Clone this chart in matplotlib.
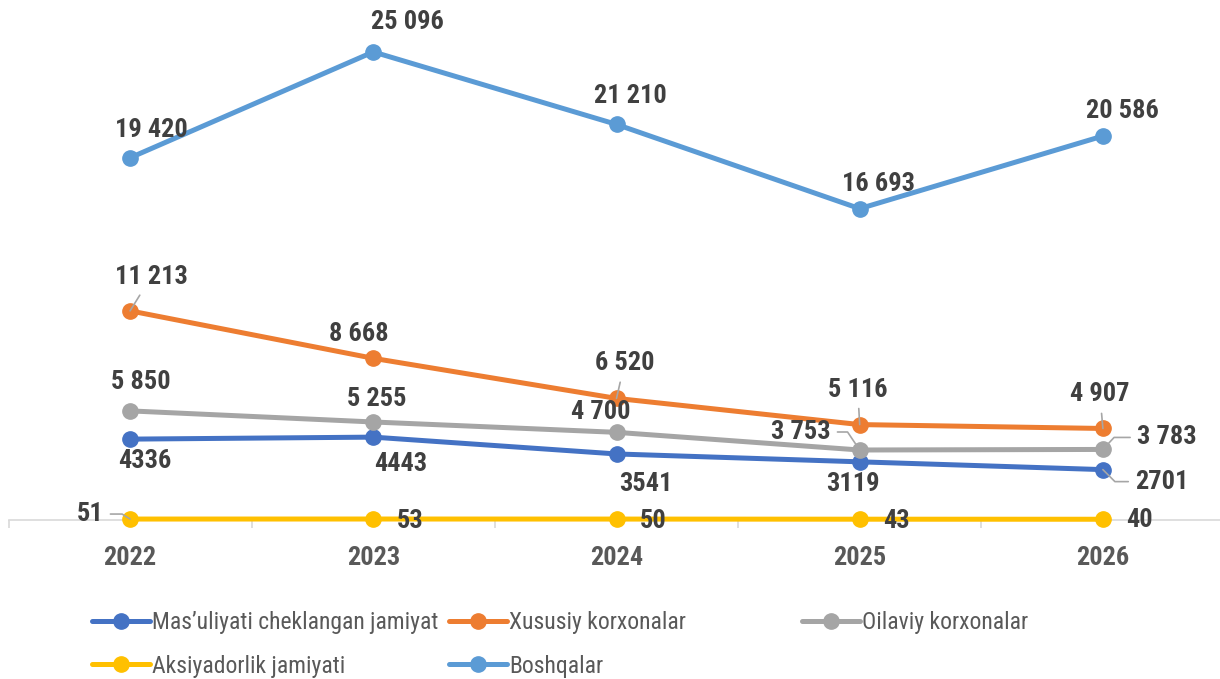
import matplotlib
matplotlib.use("Agg")
import matplotlib.pyplot as plt
from matplotlib import font_manager

years = ["2022", "2023", "2024", "2025", "2026"]
names = ["Mas’uliyati cheklangan jamiyat", "Xususiy korxonalar", "Oilaviy korxonalar",
         "Aksiyadorlik jamiyati", "Boshqalar"]
mchj = [4336, 4443, 3541, 3119, 2701]
xususiy = [11213, 8668, 6520, 5116, 4907]
oilaviy = [5850, 5255, 4700, 3753, 3783]
aksiya = [51, 53, 50, 43, 40]
boshqa = [19420, 25096, 21210, 16693, 20586]
colors = ["#4472C4", "#ED7D31", "#A5A5A5", "#FFC000", "#5B9BD5"]
spaced = [False, True, True, False, True]  # thousands separator in labels

# label offsets in pixels (dx, dy); leader: None, "line", or angle of the
# leader's last segment (elbow leader)
offsets = [
    [(15, -22, None), (27, -27, None), (29, -30, None), (-7, -22, None), (59, -12, 135)],
    [(21, 34, "line"), (-14, 24, None), (8, 35, "line"), (-2, 35, "line"), (-3, 34, "line")],
    [(11, 29, None), (3, 23, None), (-16, 20, None), (-59, 18, -56), (64, 12, 47)],
    [(-40, 5, -32), (37, -2, None), (37, -2, None), (37, -2, None), (37, -1, None)],
    [(21, 28, None), (34, 30, None), (14, 28, None), (19, 25, None), (20, 25, None)],
]

names_avail = {f.name for f in font_manager.fontManager.ttflist}
FONT = "Roboto"
for cand in ["Roboto Condensed", "Liberation Sans Narrow", "Roboto"]:
    if cand in names_avail:
        FONT = cand
        break
plt.rcParams["font.family"] = [FONT, "DejaVu Sans"]

W, H = 1220, 679
fig = plt.figure(figsize=(W / 100, H / 100), dpi=100)
ax = fig.add_axes([8.5 / W, (H - 520) / H, 1216 / W, 503.6 / H])
ax.set_xlim(-0.5, 4.5)
ax.set_ylim(0, 27000)

series = [mchj, xususiy, oilaviy, aksiya, boshqa]
x = list(range(len(years)))
handles = []
for vals, col, name in zip(series, colors, names):
    h, = ax.plot(x, vals, color=col, lw=3.6, marker="o", ms=11, label=name,
                 solid_capstyle="round", clip_on=False, zorder=3)
    handles.append(h)

for vals, sp, offs in zip(series, spaced, offsets):
    for xi, v, (dx, dy, lead) in zip(x, vals, offs):
        txt = f"{v:,}".replace(",", " ") if sp else str(v)
        kw = {}
        if lead == "line":
            kw["arrowprops"] = dict(arrowstyle="-", color="#A6A6A6", lw=1.2,
                                    shrinkA=3, shrinkB=0)
        elif lead is not None:
            kw["arrowprops"] = dict(arrowstyle="-", color="#A6A6A6", lw=1.2,
                                    shrinkA=3, shrinkB=0,
                                    connectionstyle=f"angle,angleA=0,angleB={lead},rad=0")
        ax.annotate(txt, (xi, v), xytext=(dx, dy), textcoords="offset pixels",
                    ha="center", va="center", fontsize=19, fontweight="bold",
                    color="#404040", zorder=4, **kw)

for s in ["top", "right", "left"]:
    ax.spines[s].set_visible(False)
ax.spines["bottom"].set_color("#D9D9D9")
ax.spines["bottom"].set_linewidth(1.2)
ax.set_yticks([])
ax.set_xticks(x)
ax.set_xticklabels(years, fontsize=19, fontweight="bold", color="#595959")
ax.tick_params(axis="x", length=0, pad=19)
ax.set_xticks([i - 0.5 for i in range(len(years) + 1)], minor=True)
ax.tick_params(axis="x", which="minor", length=6, color="#D9D9D9", width=1.2)

leg_pos = [(92, 623), (449, 623), (802, 623), (92, 666), (449, 666)]
for h, (px, py) in zip(handles, leg_pos):
    leg = fig.legend([h], [h.get_label()], loc="center left",
                     bbox_to_anchor=(px / W, 1 - py / H), frameon=False,
                     fontsize=17, handlelength=2.45, handletextpad=0.1,
                     borderpad=0, borderaxespad=0, labelcolor="#595959")

fig.savefig("out.png", dpi=100)
